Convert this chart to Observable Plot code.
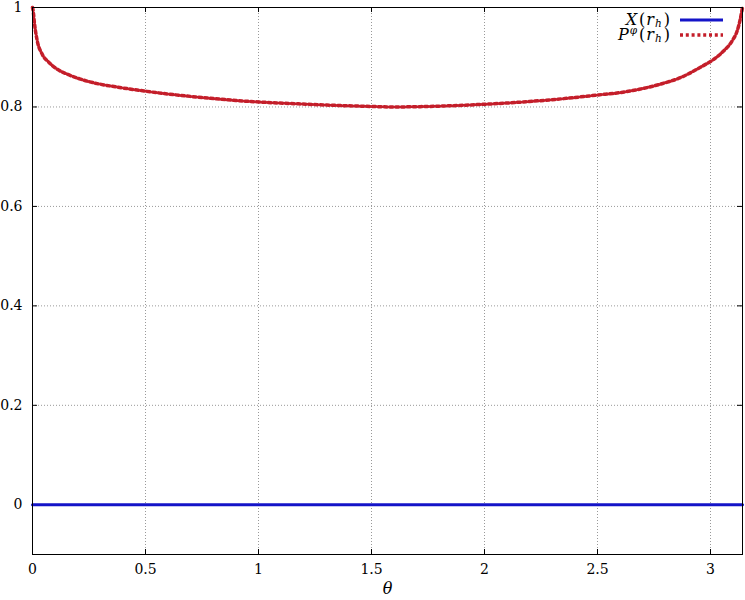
<!DOCTYPE html>
<html>
<head>
<meta charset="utf-8">
<script src="https://cdn.jsdelivr.net/npm/d3@7"></script>
<script src="https://cdn.jsdelivr.net/npm/@observablehq/plot@0.6"></script>
<style>
  body { margin: 0; background: white; }
  svg text { font-family: "DejaVu Serif", serif; }
</style>
</head>
<body>
<div id="chart"></div>
<script>
// Tick values
const xTicks = [0, 0.5, 1, 1.5, 2, 2.5, 3];
const yTicks = [0, 0.2, 0.4, 0.6, 0.8, 1];

// Series: theta samples and values
const theta = [0, 0.003, 0.009, 0.021, 0.043, 0.072, 0.109, 0.153, 0.212, 0.286, 0.36, 0.463, 0.6, 0.75, 0.9, 1.0, 1.19, 1.35, 1.5, 1.6, 1.75, 1.98, 2.2, 2.4, 2.5, 2.602, 2.69, 2.779, 2.867, 2.956, 3.015, 3.059, 3.096, 3.118, 3.13, Math.PI];
const P = [1, 0.993, 0.967, 0.933, 0.906, 0.890, 0.876, 0.866, 0.856, 0.847, 0.841, 0.834, 0.826, 0.819, 0.813, 0.810, 0.806, 0.803, 0.801, 0.800, 0.801, 0.805, 0.811, 0.819, 0.824, 0.829, 0.836, 0.846, 0.859, 0.880, 0.896, 0.913, 0.933, 0.953, 0.973, 1];
const thetaX = [0, Math.PI];
const Xvals = [0, 0];

const pData = theta.map((t, i) => ({t, v: P[i]}));
const xData = thetaX.map((t, i) => ({t, v: Xvals[i]}));

const W = 745, H = 600;
const mL = 32, mR = 3, mT = 7, mB = 46;
const blue = "#1414c8";
const red = "#c41e2a";
const dash = "3,2.8";
const serif = "DejaVu Serif, serif";
const gridStyle = {stroke: "#999", strokeOpacity: 1, strokeDasharray: "1,2", strokeWidth: 1};
const fmt = d => String(d);

const plot = Plot.plot({
  width: W, height: H,
  marginLeft: mL, marginRight: mR, marginTop: mT, marginBottom: mB,
  x: {domain: [0, Math.PI]},
  y: {domain: [-0.1, 1]},
  style: {fontFamily: serif, fontSize: "14px", background: "white", color: "black"},
  marks: [
    Plot.gridX(xTicks, gridStyle),
    Plot.gridY(yTicks, gridStyle),
    Plot.axisX(xTicks, {tickSize: 0, tickPadding: 10, label: null, fontSize: 14, tickFormat: fmt}),
    Plot.axisY(yTicks, {tickSize: 0, tickPadding: 10, label: null, fontSize: 14, tickFormat: fmt}),
    // inward tick marks on all four sides
    Plot.ruleX(xTicks, {y1: -0.1, y2: -0.09, stroke: "black"}),
    Plot.ruleX(xTicks, {y1: 1, y2: 0.99, stroke: "black"}),
    Plot.ruleY(yTicks, {x1: 0, x2: 0.022, stroke: "black"}),
    Plot.ruleY(yTicks, {x1: Math.PI - 0.022, x2: Math.PI, stroke: "black"}),
    Plot.line(xData, {x: "t", y: "v", stroke: blue, strokeWidth: 3}),
    Plot.line(pData, {x: "t", y: "v", stroke: red, strokeWidth: 3.5, strokeDasharray: dash, curve: "monotone-x"}),
    Plot.frame({stroke: "black", strokeWidth: 1}),
    Plot.text(["θ"], {frameAnchor: "bottom", dy: 39, fontStyle: "italic", fontSize: 16})
  ]
});

document.getElementById("chart").appendChild(plot);

// Legend (inside the plot, top right)
const svg = d3.select(plot);
const right = W - mR;
const lg = svg.append("g").attr("font-family", serif).attr("font-size", 16);
function entry(y, base, sup, color, dsh) {
  const t = lg.append("text").attr("x", right - 72).attr("y", y + 4.5).attr("text-anchor", "end");
  t.append("tspan").attr("font-style", "italic").text(base);
  if (sup) t.append("tspan").attr("font-style", "italic").attr("font-size", 10.5).attr("dx", 1).attr("dy", -6).text(sup);
  t.append("tspan").attr("dx", 2).attr("dy", sup ? 6 : 0).text("(");
  t.append("tspan").attr("font-style", "italic").attr("dx", 1).text("r");
  t.append("tspan").attr("font-style", "italic").attr("font-size", 10.5).attr("dx", 1).attr("dy", 2.5).text("h");
  t.append("tspan").attr("dx", 2).attr("dy", -2.5).text(")");
  lg.append("line").attr("x1", right - 62).attr("x2", right - 19).attr("y1", y).attr("y2", y)
    .attr("stroke", color).attr("stroke-width", dsh ? 3.5 : 3).attr("stroke-dasharray", dsh || null);
}
entry(20, "X", null, blue, null);
entry(35, "P", "φ", red, dash);
</script>
</body>
</html>
